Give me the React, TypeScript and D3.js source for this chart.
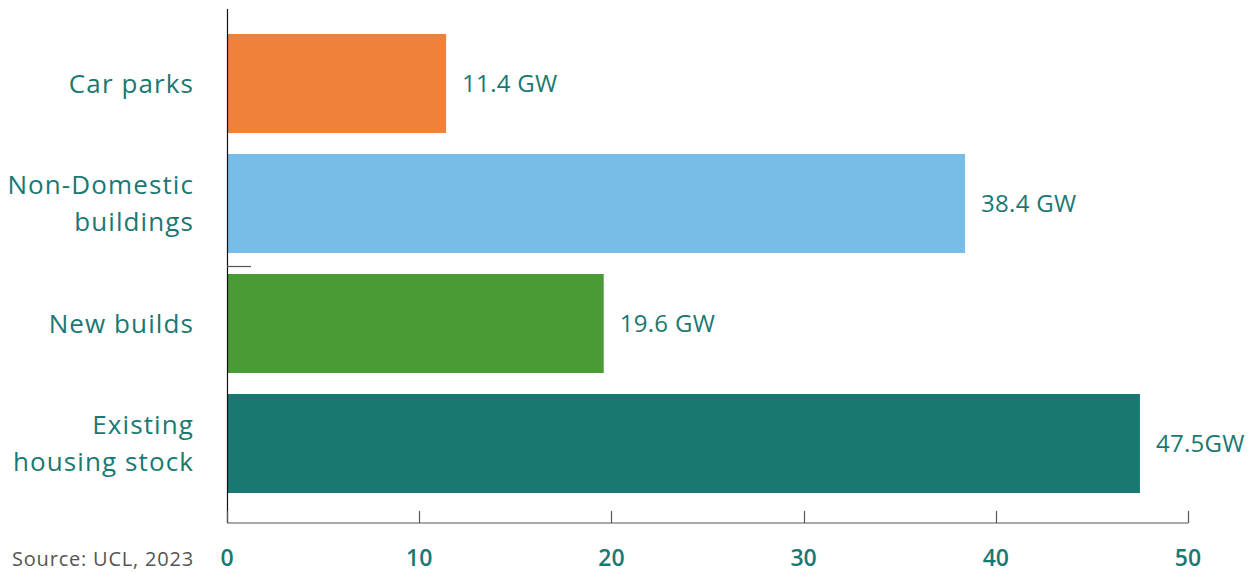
import { useEffect, useRef } from 'react';
import * as d3 from 'd3';

// chart data
const categories = ['Car parks', 'Non-Domestic buildings', 'New builds', 'Existing housing stock'];
const labelLines = [['Car parks'], ['Non-Domestic', 'buildings'], ['New builds'], ['Existing', 'housing stock']];
const values = [11.4, 38.4, 19.6, 47.5];
const valueLabels = ['11.4 GW', '38.4 GW', '19.6 GW', '47.5GW'];
const barColors = ['#F0813C', '#77BDE8', '#4A9A36', '#1A7872'];
const xTicks = [0, 10, 20, 30, 40, 50];

const W = 1256;
const H = 573;
const TEAL = '#1A7872';
const FONT = '"Open Sans", Lato, sans-serif';

const App = () => {
  const ref = useRef<SVGSVGElement>(null);

  useEffect(() => {
    const svg = d3.select(ref.current);
    svg.selectAll('*').remove();

    const x = d3.scaleLinear().domain([0, 50]).range([227, 1188]);
    const y = d3.scaleBand<string>().domain(categories).range([23.5, 503.5]).paddingInner(0.175).paddingOuter(0.0875);

    // bars
    svg
      .selectAll('rect.bar')
      .data(values)
      .enter()
      .append('rect')
      .attr('class', 'bar')
      .attr('x', x(0))
      .attr('y', (_, i) => y(categories[i])!)
      .attr('width', (d) => x(d) - x(0))
      .attr('height', y.bandwidth())
      .attr('fill', (_, i) => barColors[i]);

    // value labels
    svg
      .selectAll('text.val')
      .data(values)
      .enter()
      .append('text')
      .attr('class', 'val')
      .attr('x', (d) => x(d) + 16)
      .attr('y', (_, i) => y(categories[i])! + y.bandwidth() / 2)
      .attr('dy', '0.35em')
      .attr('fill', TEAL)
      .style('font-family', FONT)
      .style('font-size', '24px')
      .style('letter-spacing', '0.3px')
      .style('font-weight', 500)
      .text((_, i) => valueLabels[i]);

    // category labels
    categories.forEach((c, i) => {
      const lines = labelLines[i];
      const cy = y(c)! + y.bandwidth() / 2;
      const lh = 37;
      const t = svg
        .append('text')
        .attr('text-anchor', 'end')
        .attr('fill', TEAL)
        .style('font-family', FONT)
        .style('font-size', '26px')
        .style('letter-spacing', '1.1px');
      lines.forEach((ln, j) => {
        t.append('tspan')
          .attr('x', 194)
          .attr('y', cy + (j - (lines.length - 1) / 2) * lh)
          .attr('dy', '0.35em')
          .text(ln);
      });
    });

    // y axis line
    svg.append('line').attr('x1', 227.5).attr('x2', 227.5).attr('y1', 9).attr('y2', 523).attr('stroke', '#111').attr('stroke-width', 1.2);
    // stray tick between bands
    svg.append('line').attr('x1', 227).attr('x2', 251).attr('y1', 266.5).attr('y2', 266.5).attr('stroke', '#555').attr('stroke-width', 1.2);

    // x axis
    const axisG = svg.append('g').attr('transform', 'translate(0,523)');
    axisG.append('line').attr('x1', x(0)).attr('x2', x(50)).attr('y1', 0).attr('y2', 0).attr('stroke', '#555').attr('stroke-width', 1.2);
    axisG
      .selectAll('line.tick')
      .data(xTicks)
      .enter()
      .append('line')
      .attr('class', 'tick')
      .attr('x1', (d) => Math.round(x(d)) + 0.5)
      .attr('x2', (d) => Math.round(x(d)) + 0.5)
      .attr('y1', 0)
      .attr('y2', -12)
      .attr('stroke', '#555')
      .attr('stroke-width', 1.2);
    axisG
      .selectAll('text.tl')
      .data(xTicks)
      .enter()
      .append('text')
      .attr('class', 'tl')
      .attr('x', (d) => x(d))
      .attr('y', 43)
      .attr('text-anchor', 'middle')
      .attr('fill', TEAL)
      .style('font-family', FONT)
      .style('font-size', '23px')
      .style('font-weight', 600)
      .text((d) => String(d));

    // source note
    svg
      .append('text')
      .attr('x', 12)
      .attr('y', 566)
      .attr('fill', '#555')
      .style('font-family', FONT)
      .style('font-size', '20px')
      .style('letter-spacing', '0.8px')
      .text('Source: UCL, 2023');
  }, []);

  return <svg ref={ref} width={W} height={H} style={{ position: 'absolute', left: 0, top: 0, background: '#fff' }}></svg>;
};

export default App;
